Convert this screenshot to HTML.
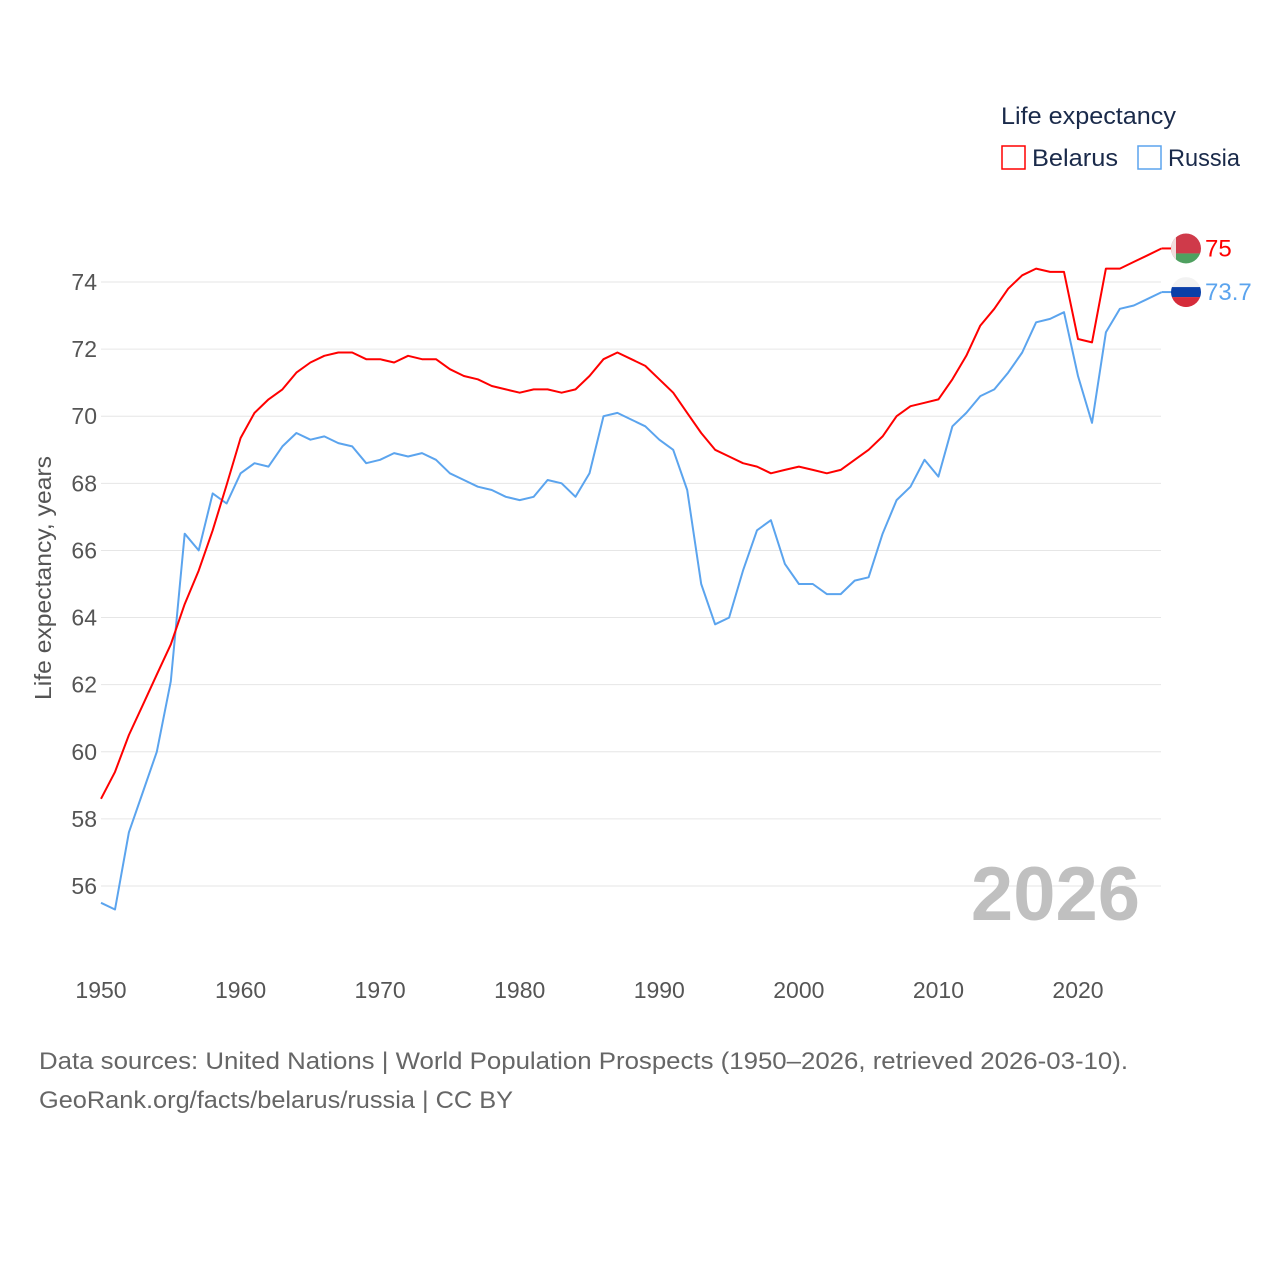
<!DOCTYPE html>
<html><head><meta charset="utf-8">
<style>
body{margin:0;background:#fff;font-family:"Liberation Sans",sans-serif;}
svg text{font-family:"Liberation Sans",sans-serif;}
</style></head>
<body>
<svg id="chart" width="1280" height="1280" viewBox="0 0 1280 1280" xmlns="http://www.w3.org/2000/svg">
<rect width="1280" height="1280" fill="#fff"/>
<g id="grid"></g>
<g id="yticks"></g>
<g id="xticks"></g>
<text transform="translate(51,578) rotate(-90)" text-anchor="middle" font-size="23" fill="#555" textLength="244" lengthAdjust="spacingAndGlyphs">Life expectancy, years</text>
<text x="1140" y="920" text-anchor="end" font-size="76" font-weight="bold" fill="#c0c0c0">2026</text>
<g id="series"></g>
<g>
<text x="1001" y="124" font-size="24" fill="#1a2a4a" textLength="175" lengthAdjust="spacingAndGlyphs">Life expectancy</text>
<rect x="1002" y="146" width="23" height="23" fill="none" stroke="#ff0000" stroke-width="1.5"/>
<text x="1032" y="166" font-size="24" fill="#1a2a4a" textLength="86" lengthAdjust="spacingAndGlyphs">Belarus</text>
<rect x="1138" y="146" width="23" height="23" fill="none" stroke="#5ba4ee" stroke-width="1.5"/>
<text x="1168" y="166" font-size="24" fill="#1a2a4a" textLength="72" lengthAdjust="spacingAndGlyphs">Russia</text>
</g>
<g id="flags"></g>
<text x="39" y="1069" font-size="24" fill="#666" textLength="1089" lengthAdjust="spacingAndGlyphs">Data sources: United Nations | World Population Prospects (1950–2026, retrieved 2026-03-10).</text>
<text x="39" y="1108" font-size="24" fill="#666" textLength="474" lengthAdjust="spacingAndGlyphs">GeoRank.org/facts/belarus/russia | CC BY</text>
</svg>
<script>
const years = [];
for (let y = 1950; y <= 2026; y++) years.push(y);
const belarus = [58.6,59.4,60.5,61.4,62.3,63.2,64.4,65.4,66.6,67.95,69.35,70.1,70.5,70.8,71.3,71.6,71.8,71.9,71.9,71.7,71.7,71.6,71.8,71.7,71.7,71.4,71.2,71.1,70.9,70.8,70.7,70.8,70.8,70.7,70.8,71.2,71.7,71.9,71.7,71.5,71.1,70.7,70.1,69.5,69.0,68.8,68.6,68.5,68.3,68.4,68.5,68.4,68.3,68.4,68.7,69.0,69.4,70.0,70.3,70.4,70.5,71.1,71.8,72.7,73.2,73.8,74.2,74.4,74.3,74.3,72.3,72.2,74.4,74.4,74.6,74.8,75.0];
const russia = [55.5,55.3,57.6,58.8,60.0,62.1,66.5,66.0,67.7,67.4,68.3,68.6,68.5,69.1,69.5,69.3,69.4,69.2,69.1,68.6,68.7,68.9,68.8,68.9,68.7,68.3,68.1,67.9,67.8,67.6,67.5,67.6,68.1,68.0,67.6,68.3,70.0,70.1,69.9,69.7,69.3,69.0,67.8,65.0,63.8,64.0,65.4,66.6,66.9,65.6,65.0,65.0,64.7,64.7,65.1,65.2,66.5,67.5,67.9,68.7,68.2,69.7,70.1,70.6,70.8,71.3,71.9,72.8,72.9,73.1,71.2,69.8,72.5,73.2,73.3,73.5,73.7];
const yTicks = [56,58,60,62,64,66,68,70,72,74];
const xTicks = [1950,1960,1970,1980,1990,2000,2010,2020];
const NS = "http://www.w3.org/2000/svg";
const xs = yr => 101 + (yr - 1950) * (977 / 70);
const ys = v => 282 + (74 - v) * (604 / 18);
function mk(tag, attrs, parent){const e=document.createElementNS(NS,tag);for(const k in attrs)e.setAttribute(k,attrs[k]);parent.appendChild(e);return e;}
const grid=document.getElementById('grid'), yt=document.getElementById('yticks'), xt=document.getElementById('xticks');
yTicks.forEach(v=>{
  const l=mk('line',{x1:101,x2:1161,y1:ys(v),y2:ys(v),stroke:'#e6e6e6','stroke-width':1},grid);
  
  
  const t=mk('text',{x:97,y:ys(v)+8,'text-anchor':'end','font-size':23,fill:'#555'},yt);
  t.textContent=v;
  
  
});
xTicks.forEach(v=>{
  const t=mk('text',{x:xs(v),y:998,'text-anchor':'middle','font-size':23,fill:'#555'},xt);
  t.textContent=v;
  
  
});
const series=document.getElementById('series');
function line(vals,color,name){
  const d=vals.map((v,i)=>(i?'L':'M')+xs(years[i]).toFixed(1)+','+ys(v).toFixed(1)).join('');
  const p=mk('path',{d:d,fill:'none',stroke:color,'stroke-width':2,'stroke-linejoin':'round'},series);
  
  
}
line(russia,'#5ba4ee','russia-line');
line(belarus,'#ff0000','belarus-line');
const flags=document.getElementById('flags');
const lx=xs(2026);
function flag(v,color,label,name,top,bottom,mid){
  const y=ys(v);
  const c=mk('line',{x1:lx,x2:1172,y1:y,y2:y,stroke:color,'stroke-width':2},flags);
  
  
  const g=mk('g',{},flags);
  
  
  const cp=mk('clipPath',{id:'cp'+name},g);
  mk('circle',{cx:1186,cy:y,r:15},cp);
  const gg=mk('g',{'clip-path':'url(#cp'+name+')'},g);
  if(mid){
    mk('rect',{x:1171,y:y-15,width:30,height:10,fill:top},gg);
    mk('rect',{x:1171,y:y-5,width:30,height:10,fill:mid},gg);
    mk('rect',{x:1171,y:y+5,width:30,height:10,fill:bottom},gg);
  } else {
    mk('rect',{x:1171,y:y-15,width:30,height:20,fill:top},gg);
    mk('rect',{x:1171,y:y+5,width:30,height:10,fill:bottom},gg);
    mk('rect',{x:1171,y:y-15,width:5,height:30,fill:'#f2dede'},gg);
  }
  const t=mk('text',{x:1205,y:y+8,'font-size':24,fill:color},flags);
  t.textContent=label;
  
  
}
flag(belarus[belarus.length-1],'#ff0000',String(belarus[belarus.length-1]),'belarus','#cf3a4a','#4fa060',null);
flag(russia[russia.length-1],'#5ba4ee',String(russia[russia.length-1]),'russia','#f2f2f2','#d52b3a','#0a3fa8');
</script>
</body></html>
